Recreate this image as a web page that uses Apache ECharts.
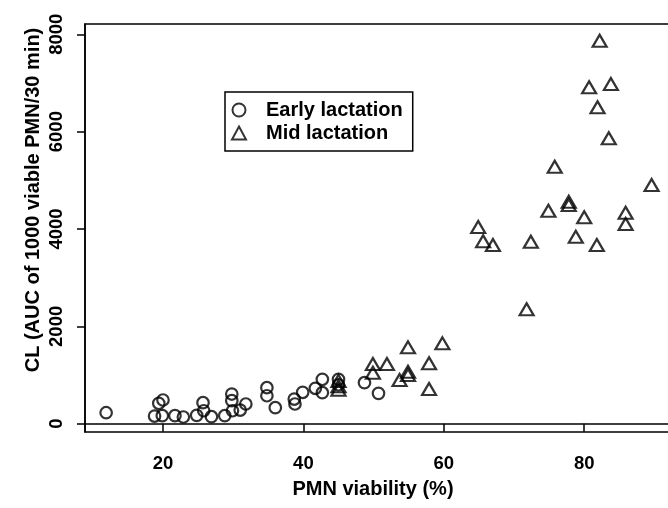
<!DOCTYPE html>
<html>
<head>
<meta charset="utf-8">
<script src="https://cdn.jsdelivr.net/npm/echarts@6/dist/echarts.min.js"></script>
<style>html,body{margin:0;padding:0;background:#fff;}#c{width:668px;height:508px;}</style>
</head>
<body>
<div id="c"></div>
<script>
// ---- data ----
const earlyX = [11.9, 19.4, 20.0, 18.8, 19.9, 21.7, 22.9, 24.8, 25.7, 25.8, 26.9, 28.8, 29.8, 29.8, 29.9, 31.0, 31.8, 34.8, 34.8, 36.0, 38.7, 38.8, 39.9, 41.7, 42.7, 42.7, 45.0, 45.0, 48.7, 50.7];
const earlyY = [226, 419, 487, 158, 165, 165, 138, 172, 432, 267, 144, 165, 610, 473, 267, 281, 405, 740, 575, 329, 507, 405, 645, 727, 912, 637, 912, 800, 843, 624];
const midX = [45.0, 45.0, 45.0, 49.9, 49.9, 51.9, 54.9, 54.9, 54.9, 53.7, 57.9, 57.9, 59.8, 64.9, 65.6, 67.0, 71.8, 72.4, 74.9, 75.8, 77.8, 77.8, 78.8, 80.0, 80.7, 81.9, 81.8, 82.2, 83.5, 83.8, 85.9, 85.9, 89.6];
const midY = [880, 770, 700, 1226, 1048, 1226, 1569, 1068, 1000, 898, 1241, 713, 1651, 4041, 3749, 3670, 2350, 3739, 4376, 5279, 4561, 4493, 3841, 4240, 6911, 6500, 3671, 7868, 5863, 6978, 4335, 4102, 4904];
const xTicks = [20, 40, 60, 80];
const yTicks = [0, 2000, 4000, 6000, 8000];
const seriesNames = ['Early lactation', 'Mid lactation'];
const xTitle = 'PMN viability (%)';
const yTitle = 'CL (AUC of 1000 viable PMN/30 min)';

const zip = (a, b) => a.map((v, i) => [v, b[i]]);
const FONT = '"Liberation Sans", Arial, sans-serif';

const chart = echarts.init(document.getElementById('c'), null, {renderer: 'canvas'});
chart.setOption({
  animation: false,
  backgroundColor: '#fff',
  grid: {left: 85, top: 24, width: 588, height: 408, outerBoundsMode: 'none', containLabel: false,
         show: true, borderColor: '#000', borderWidth: 1.5, backgroundColor: 'transparent'},
  xAxis: {
    type: 'value', min: 8.89, max: 92.65,
    axisLine: {show: true, lineStyle: {color: '#000', width: 1.5}},
    axisTick: {show: true, customValues: xTicks, length: 8, lineStyle: {color: '#000', width: 1.5}},
    axisLabel: {customValues: xTicks, margin: 22, color: '#000', fontFamily: FONT, fontWeight: 'bold', fontSize: 18.5,
                formatter: v => String(v)},
    splitLine: {show: false}
  },
  yAxis: {
    type: 'value', min: -170, max: 8211,
    axisLine: {show: true, lineStyle: {color: '#000', width: 1.5}},
    axisTick: {show: true, customValues: yTicks, length: 8, lineStyle: {color: '#000', width: 1.5}},
    axisLabel: {customValues: yTicks, rotate: 90, margin: 19, color: '#000', fontFamily: FONT, fontWeight: 'bold', fontSize: 18.5,
                formatter: v => String(v)},
    splitLine: {show: false}
  },
  legend: {
    orient: 'vertical', left: 225, top: 92,
    data: [{name: seriesNames[0], icon: 'circle'}, {name: seriesNames[1], icon: 'triangle'}],
    itemWidth: 14, itemHeight: 13, itemGap: 3, symbolKeepAspect: true,
    padding: [8, 10, 8, 6],
    borderColor: '#000', borderWidth: 1.5,
    itemStyle: {color: 'rgba(0,0,0,0)', borderColor: '#000', borderWidth: 2},
    textStyle: {color: '#000', fontFamily: FONT, fontWeight: 'bold', fontSize: 20, padding: [0, 0, 0, 15]}
  },
  graphic: [
    {type: 'text', x: 373, y: 489, style: {text: xTitle, font: 'bold 20px ' + FONT, fill: '#000', align: 'center', verticalAlign: 'middle'}},
    {type: 'text', x: 33, y: 200, rotation: Math.PI / 2, style: {text: yTitle, font: 'bold 20px ' + FONT, fill: '#000', align: 'center', verticalAlign: 'middle'}}
  ],
  series: [
    {name: seriesNames[0], type: 'scatter', symbol: 'circle', symbolSize: 11.5, data: zip(earlyX, earlyY),
     itemStyle: {color: 'rgba(0,0,0,0)', borderColor: '#000', borderWidth: 2.2}},
    {name: seriesNames[1], type: 'scatter', symbol: 'triangle', symbolSize: [14, 12], data: zip(midX, midY),
     itemStyle: {color: 'rgba(0,0,0,0)', borderColor: '#000', borderWidth: 2.2}}
  ]
});
</script>
</body>
</html>
